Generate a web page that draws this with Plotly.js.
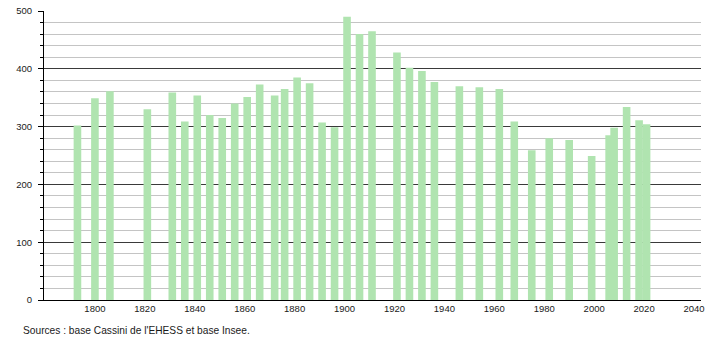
<!DOCTYPE html>
<html>
<head>
<meta charset="utf-8">
<script src="https://cdn.plot.ly/plotly-3.0.1.min.js"></script>
<style>
html,body{margin:0;padding:0;background:#fff;}
#chart{width:710px;height:340px;}
</style>
</head>
<body>
<div id="chart"></div>
<script>
const years = [1793, 1800, 1806, 1821, 1831, 1836, 1841, 1846, 1851, 1856, 1861, 1866, 1872, 1876, 1881, 1886, 1891, 1896, 1901, 1906, 1911, 1921, 1926, 1931, 1936, 1946, 1954, 1962, 1968, 1975, 1982, 1990, 1999, 2006, 2008, 2013, 2018, 2021];
const population = [302, 349, 361, 330, 359, 309, 354, 320, 315, 340, 351, 373, 354, 365, 385, 375, 307, 299, 490, 460, 465, 428, 402, 396, 377, 370, 368, 365, 309, 259, 280, 277, 249, 285, 298, 334, 311, 304];
const xTicks = [1800, 1820, 1840, 1860, 1880, 1900, 1920, 1940, 1960, 1980, 2000, 2020, 2040];
const sourceText = "Sources : base Cassini de l'EHESS et base Insee.";

const font = {family: '"Liberation Sans", Arial, sans-serif', size: 9.5, color: '#1a1a1a'};

Plotly.newPlot('chart', [{
  type: 'bar',
  x: years,
  y: population,
  width: 3.05,
  marker: {color: '#b0e4b0', line: {width: 0}},
  hoverinfo: 'x+y'
}], {
  width: 710, height: 340,
  margin: {l: 44, r: 9, t: 10.5, b: 40, pad: 0},
  paper_bgcolor: '#fff', plot_bgcolor: '#fff',
  showlegend: false,
  font: font,
  xaxis: {
    range: [1779.6, 2042.8],
    tickmode: 'array', tickvals: xTicks, ticktext: xTicks.map(String),
    showgrid: false, zeroline: false,
    showline: true, linecolor: '#000', linewidth: 1,
    ticks: '', tickfont: font
  },
  yaxis: {
    range: [0, 500],
    tickmode: 'linear', tick0: 0, dtick: 100,
    showgrid: true, gridcolor: '#3a3a3a', gridwidth: 1,
    zeroline: false,
    showline: true, linecolor: '#000', linewidth: 1,
    ticks: 'outside', ticklen: 5, tickcolor: '#000', tickwidth: 1,
    ticklabelstandoff: 4,
    tickfont: font,
    minor: {dtick: 20, showgrid: true, gridcolor: '#c4c4c4', gridwidth: 1, ticks: 'outside', ticklen: 3, tickcolor: '#000'}
  },
  annotations: [{
    text: sourceText,
    xref: 'paper', yref: 'paper',
    x: (20.5 - 44) / 657, y: -30.5 / 289.8,
    xanchor: 'left', yanchor: 'middle',
    showarrow: false,
    font: {family: '"Liberation Sans", Arial, sans-serif', size: 10.2, color: '#1a1a1a'}
  }]
}, {staticPlot: true});
</script>
</body>
</html>
